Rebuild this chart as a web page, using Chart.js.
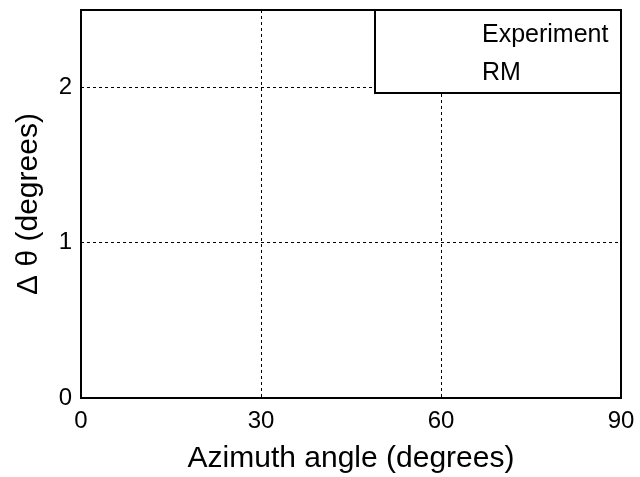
<!DOCTYPE html>
<html>
<head>
<meta charset="utf-8">
<script src="https://cdn.jsdelivr.net/npm/chart.js@4"></script>
<style>
	html, body { margin: 0; padding: 0; background: #fff; }
	canvas { display: block; }
</style>
</head>
<body>
<canvas id="chart" width="640" height="477"></canvas>
<script>
// axis ticks
const azimuthTicks = [0, 30, 60, 90];
const thetaTicks = [0, 1, 2];
const thetaMax = 2.5;

// series (no points are plotted in the reference)
const seriesLabels = ["Experiment", "RM"];
const experimentData = [];
const rmData = [];

const FONT = "'Liberation Sans', Arial, sans-serif";

// frame round the plot area + the boxed legend in the top right corner
const framePlugin = {
	id: "frame",
	afterDraw(chart) {
		const { ctx, chartArea: a } = chart;
		ctx.save();
		ctx.strokeStyle = "#000";
		ctx.lineWidth = 2;
		ctx.strokeRect(a.left, a.top, a.right - a.left, a.bottom - a.top);

		const boxW = 246, boxH = 83;
		const bx = a.right - boxW, by = a.top;
		ctx.fillStyle = "#fff";
		ctx.fillRect(bx, by, boxW, boxH);
		ctx.strokeRect(bx, by, boxW, boxH);

		ctx.fillStyle = "#000";
		ctx.font = "25px " + FONT;
		ctx.textAlign = "left";
		ctx.textBaseline = "alphabetic";
		chart.data.datasets.forEach((ds, i) => {
			ctx.fillText(ds.label, bx + 107, by + 32 + i * 38);
		});
		ctx.restore();
	},
};

new Chart(document.getElementById("chart"), {
	type: "scatter",
	data: {
		datasets: [
			{ label: seriesLabels[0], data: experimentData, borderColor: "#000", backgroundColor: "#000" },
			{ label: seriesLabels[1], data: rmData, borderColor: "#f00", backgroundColor: "#f00" },
		],
	},
	options: {
		responsive: false,
		animation: false,
		layout: { padding: { top: 10, right: 19, left: 0, bottom: 0 } },
		plugins: { legend: { display: false }, tooltip: { enabled: false } },
		scales: {
			x: {
				type: "linear",
				min: azimuthTicks[0],
				max: azimuthTicks[azimuthTicks.length - 1],
				afterBuildTicks: (s) => { s.ticks = azimuthTicks.map((v) => ({ value: v })); },
				afterFit: (s) => { s.height = 79; s.paddingLeft = 0; s.paddingRight = 0; },
				grid: { color: "#000", lineWidth: 1, drawTicks: false },
				border: { display: false, dash: [3, 3] },
				ticks: { color: "#000", padding: 9, maxRotation: 0, font: { family: FONT, size: 24 } },
				title: {
					display: true,
					text: "Azimuth angle (degrees)",
					color: "#000",
					padding: { top: 0, bottom: 0 },
					font: { family: FONT, size: 30, lineHeight: 1.2 },
				},
			},
			y: {
				type: "linear",
				min: thetaTicks[0],
				max: thetaMax,
				afterBuildTicks: (s) => { s.ticks = thetaTicks.map((v) => ({ value: v })); },
				afterFit: (s) => { s.width = 81; s.paddingTop = 0; s.paddingBottom = 0; },
				grid: { color: "#000", lineWidth: 1, drawTicks: false },
				border: { display: false, dash: [3, 3] },
				ticks: { color: "#000", padding: 9, font: { family: FONT, size: 24 } },
				title: {
					display: true,
					text: "Δ θ (degrees)",
					color: "#000",
					padding: { top: 11, bottom: 0 },
					font: { family: FONT, size: 30, lineHeight: 1.2 },
				},
			},
		},
	},
	plugins: [framePlugin],
});
</script>
</body>
</html>
